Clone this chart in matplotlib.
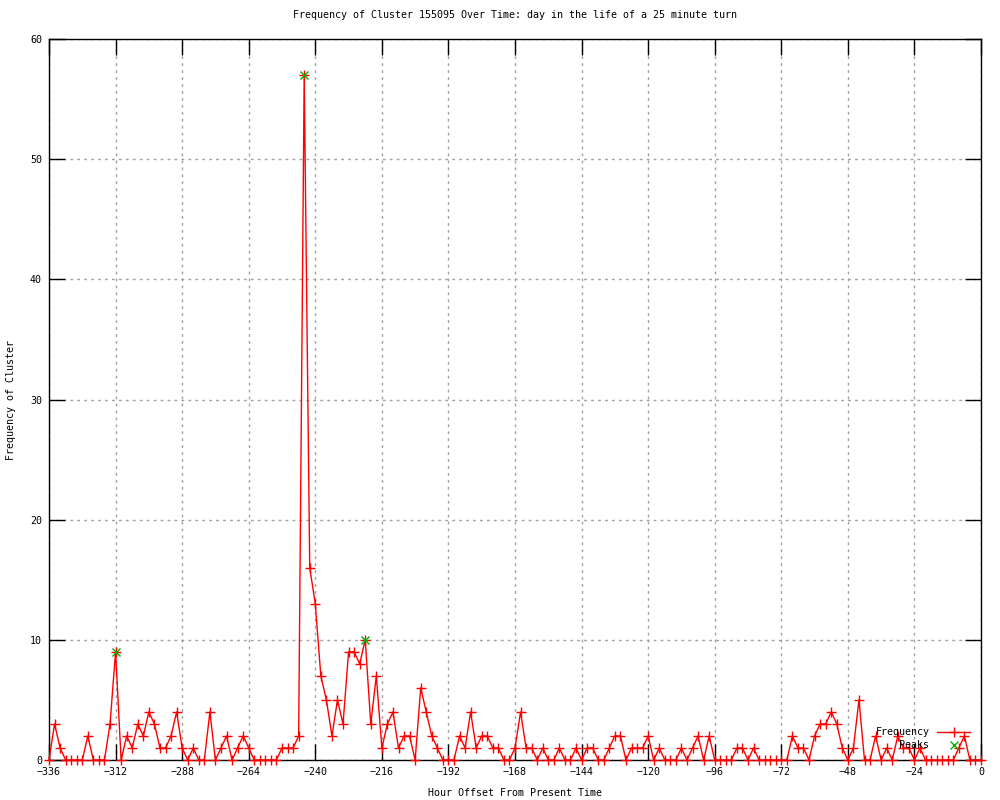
import numpy as np
import matplotlib
matplotlib.use("Agg")
import matplotlib.pyplot as plt

# hour offsets, every 2 hours from -336 to 0
hours = np.arange(-336, 1, 2)

freq = [0, 3, 1, 0, 0, 0, 0, 2, 0, 0,
        0, 3, 9, 0, 2, 1, 3, 2, 4, 3,
        1, 1, 2, 4, 1, 0, 1, 0, 0, 4,
        0, 1, 2, 0, 1, 2, 1, 0, 0, 0,
        0, 0, 1, 1, 1, 2, 57, 16, 13, 7,
        5, 2, 5, 3, 9, 9, 8, 10, 3, 7,
        1, 3, 4, 1, 2, 2, 0, 6, 4, 2,
        1, 0, 0, 0, 2, 1, 4, 1, 2, 2,
        1, 1, 0, 0, 1, 4, 1, 1, 0, 1,
        0, 0, 1, 0, 0, 1, 0, 1, 1, 0,
        0, 1, 2, 2, 0, 1, 1, 1, 2, 0,
        1, 0, 0, 0, 1, 0, 1, 2, 0, 2,
        0, 0, 0, 0, 1, 1, 0, 1, 0, 0,
        0, 0, 0, 0, 2, 1, 1, 0, 2, 3,
        3, 4, 3, 1, 0, 1, 5, 0, 0, 2,
        0, 1, 0, 2, 1, 1, 0, 1, 0, 0,
        0, 0, 0, 0, 1, 2, 0, 0, 0]

peak_hours = [-312, -244, -222]
peak_freq = [9, 57, 10]

xticks = np.arange(-336, 1, 24)
yticks = np.arange(0, 61, 10)

font = "DejaVu Sans Mono"
fs = 7.2

fig = plt.figure(figsize=(10, 8), dpi=100)
ax = fig.add_axes([0.049, 0.05, 0.932, 0.90125])

ax.plot(hours, freq, color="red", lw=1, marker="+", markersize=7,
        markeredgewidth=1, clip_on=False, label="Frequency", zorder=3)
ax.plot(peak_hours, peak_freq, color="#00b000", lw=0, marker="x",
        markersize=5.5, markeredgewidth=1, clip_on=False, label="Peaks", zorder=4)

ax.set_xlim(-336, 0)
ax.set_ylim(0, 60)
ax.set_xticks(xticks)
ax.set_yticks(yticks)
ax.tick_params(direction="in", length=11.5, width=1, top=True, right=True,
               labelsize=fs, pad=5)
for lab in ax.get_xticklabels() + ax.get_yticklabels():
    lab.set_family(font)
ax.grid(True, color="#a0a0a0", linestyle=(0, (2, 3)), lw=1)
for s in ax.spines.values():
    s.set_linewidth(1)

ax.set_title("Frequency of Cluster 155095 Over Time: day in the life of a 25 minute turn",
             fontsize=fs, family=font, pad=15)
ax.set_xlabel("Hour Offset From Present Time", fontsize=fs, family=font, labelpad=8)
ax.set_ylabel("Frequency of Cluster", fontsize=fs, family=font, labelpad=10)

leg = ax.legend(loc="lower right", bbox_to_anchor=(0.993, 0.008), frameon=False,
                markerfirst=False, handlelength=3.3, labelspacing=0.3,
                prop={"family": font, "size": fs}, borderaxespad=0)
for t in leg.get_texts():
    t.set_ha("right")

fig.savefig("out.png", dpi=100)
